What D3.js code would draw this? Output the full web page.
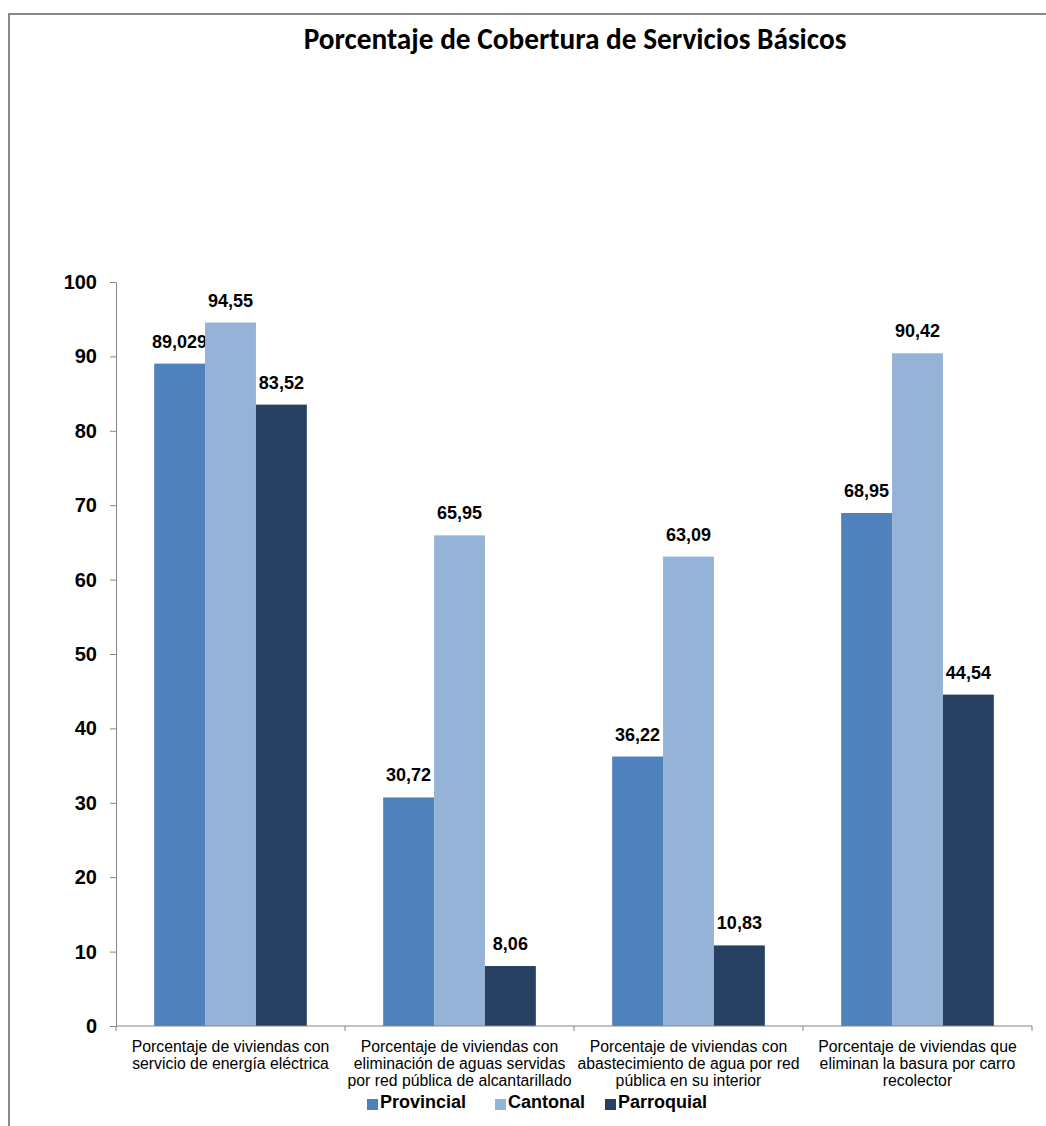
<!DOCTYPE html>
<html>
<head>
<meta charset="utf-8">
<script src="https://cdn.jsdelivr.net/npm/d3@7"></script>
<style>
  html, body { margin: 0; padding: 0; background: #fff; }
  svg { display: block; }
</style>
</head>
<body>
<svg id="chart" width="1046" height="1126"></svg>
<script>
const title = "Porcentaje de Cobertura de Servicios Básicos";
const categories = [
  ["Porcentaje de viviendas con", "servicio de energía eléctrica"],
  ["Porcentaje de viviendas con", "eliminación de aguas servidas", "por red pública de alcantarillado"],
  ["Porcentaje de viviendas con", "abastecimiento de agua por red", "pública en su interior"],
  ["Porcentaje de viviendas que", "eliminan la basura por carro", "recolector"]
];
const seriesNames = ["Provincial", "Cantonal", "Parroquial"];
const provincial = [89.029, 30.72, 36.22, 68.95];
const cantonal = [94.55, 65.95, 63.09, 90.42];
const parroquial = [83.52, 8.06, 10.83, 44.54];
const provincialLabels = ["89,029", "30,72", "36,22", "68,95"];
const cantonalLabels = ["94,55", "65,95", "63,09", "90,42"];
const parroquialLabels = ["83,52", "8,06", "10,83", "44,54"];
const yTicks = [0, 10, 20, 30, 40, 50, 60, 70, 80, 90, 100];
const colors = ["#4F81BD", "#95B3D7", "#254061"];

const seriesValues = [provincial, cantonal, parroquial];
const seriesLabels = [provincialLabels, cantonalLabels, parroquialLabels];

const svg = d3.select("#chart");

// outer chart frame (extends beyond the visible area on right/bottom)
svg.append("rect")
  .attr("x", 9).attr("y", 14)
  .attr("width", 1100).attr("height", 1200)
  .attr("fill", "none").attr("stroke", "#8a8a8a").attr("stroke-width", 2);

// title
svg.append("text")
  .attr("x", 575).attr("y", 49)
  .attr("text-anchor", "middle")
  .style("font-family", "Carlito, Lato, 'Open Sans', sans-serif")
  .style("font-weight", "bold")
  .style("font-size", "29.3px")
  .attr("fill", "#000")
  .text(title);

const catIdx = categories.map((d, i) => i);
const x0 = d3.scaleBand().domain(catIdx).range([116, 1032]).paddingInner(0).paddingOuter(0);
const x1 = d3.scaleBand().domain(seriesNames).range([0, x0.bandwidth()]).paddingInner(0).paddingOuter(0.75);
const y = d3.scaleLinear().domain([0, 100]).range([1026, 282]);

// y axis
const yAxis = d3.axisLeft(y).tickValues(yTicks).tickSize(6).tickSizeOuter(0).tickPadding(13).tickFormat(d3.format("d"));
const gy = svg.append("g").attr("transform", "translate(116,0)").call(yAxis);
gy.select(".domain").attr("stroke", "#868686");
gy.selectAll(".tick line").attr("stroke", "#868686");
gy.selectAll(".tick text")
  .style("font-family", "'Liberation Sans', Arial, sans-serif")
  .style("font-weight", "bold")
  .style("font-size", "20px")
  .attr("fill", "#000");

// bars
const groups = svg.append("g").selectAll("g.series")
  .data(seriesNames)
  .join("g")
  .attr("class", "series")
  .attr("fill", (d, i) => colors[i]);

groups.selectAll("rect")
  .data((s, si) => seriesValues[si].map((v, ci) => ({ s, si, ci, v })))
  .join("rect")
  .attr("x", d => x0(d.ci) + x1(d.s))
  .attr("y", d => y(d.v))
  .attr("width", x1.bandwidth())
  .attr("height", d => y(0) - y(d.v));

// data labels
groups.selectAll("text")
  .data((s, si) => seriesValues[si].map((v, ci) => ({ s, si, ci, v, label: seriesLabels[si][ci] })))
  .join("text")
  .attr("x", d => x0(d.ci) + x1(d.s) + x1.bandwidth() / 2)
  .attr("y", d => y(d.v) - 16)
  .attr("text-anchor", "middle")
  .style("font-family", "'Liberation Sans', Arial, sans-serif")
  .style("font-weight", "bold")
  .style("font-size", "18px")
  .attr("fill", "#000")
  .text(d => d.label);

// x axis
const gx = svg.append("g");
gx.append("line")
  .attr("x1", x0.range()[0]).attr("x2", x0.range()[1])
  .attr("y1", y(0)).attr("y2", y(0))
  .attr("stroke", "#868686");
const boundaries = catIdx.map(i => x0(i)).concat([x0.range()[1]]);
gx.selectAll("line.tick")
  .data(boundaries)
  .join("line")
  .attr("class", "tick")
  .attr("x1", d => d).attr("x2", d => d)
  .attr("y1", y(0)).attr("y2", y(0) + 5)
  .attr("stroke", "#868686");

// category labels
const catText = gx.selectAll("text.cat")
  .data(categories)
  .join("text")
  .attr("class", "cat")
  .attr("text-anchor", "middle")
  .style("font-family", "'Liberation Sans', Arial, sans-serif")
  .style("font-size", "15.8px")
  .attr("fill", "#000");
catText.each(function(lines, i) {
  const t = d3.select(this);
  lines.forEach((ln, j) => {
    t.append("tspan")
      .attr("x", x0(i) + x0.bandwidth() / 2)
      .attr("y", 1052 + j * 17)
      .text(ln);
  });
});

// legend
const legendX = [367, 495, 605];
const leg = svg.append("g").selectAll("g")
  .data(seriesNames)
  .join("g")
  .attr("transform", (d, i) => `translate(${legendX[i]},1099)`);
leg.append("rect")
  .attr("width", 11).attr("height", 11)
  .attr("fill", (d, i) => colors[i]);
leg.append("text")
  .attr("x", 13).attr("y", 9)
  .style("font-family", "'Liberation Sans', Arial, sans-serif")
  .style("font-weight", "bold")
  .style("font-size", "18px")
  .attr("fill", "#000")
  .text(d => d);
</script>
</body>
</html>
